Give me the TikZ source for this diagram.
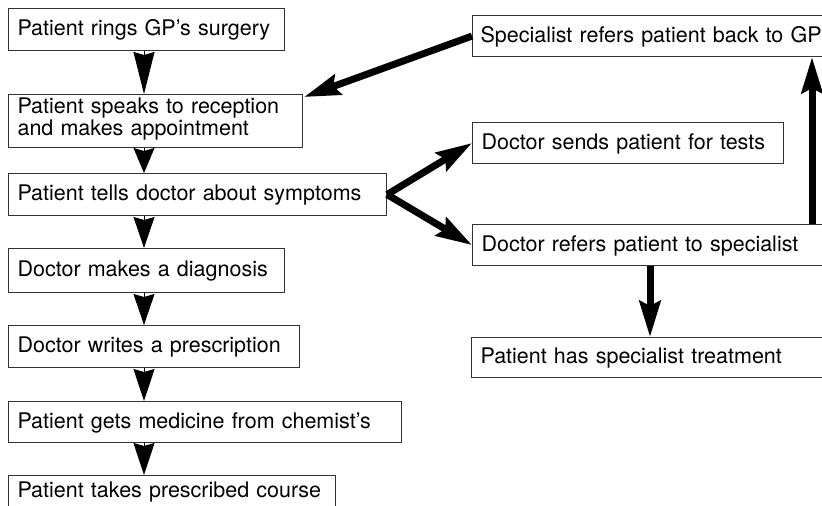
\documentclass[tikz,border=0pt]{standalone}
\usepackage{fontspec}
\setmainfont{TeX Gyre Heros}
\usetikzlibrary{arrows.meta,calc}
\begin{document}
\begin{tikzpicture}[x=1pt,y=-1pt,
  box/.style={draw=black!80, line width=1.1pt, anchor=north west, inner xsep=9pt, inner ysep=0pt,
    align=left, font=\fontsize{21.5}{17.5}\selectfont, text height=15.4pt, text depth=3pt},
  flow/.style={line width=1pt, -{Stealth[length=#1,width=21pt,inset=3pt]}},
  bigarrow/.style={line width=7pt, -{Stealth[length=36pt,width=21pt,inset=5pt]}}]
\useasboundingbox (0,0) rectangle (822,506);
\clip (0,0) rectangle (822,506);
% left column
\node[box, text width=258pt, minimum height=42pt] (b1) at (8,8) {Patient rings GP’s surgery};
\node[box, text width=276pt, minimum height=53pt, text depth=29.6pt] (b2) at (8,94) {Patient speaks to reception\\and makes appointment};
\node[box, text width=360pt, minimum height=42pt] (b3) at (8,173) {Patient tells doctor about symptoms};
\node[box, text width=258pt, minimum height=44pt] (b4) at (8,248) {Doctor makes a diagnosis};
\node[box, text width=273pt, minimum height=42pt] (b5) at (8,325) {Doctor writes a prescription};
\node[box, text width=375pt, minimum height=41pt] (b6) at (8,401) {Patient gets medicine from chemist’s};
\node[box, text width=309pt, minimum height=42pt, text depth=13pt] (b7) at (8,475) {Patient takes prescribed course};
% right column
\node[box, text width=352pt, minimum height=41pt, inner xsep=8pt] (r1) at (472,15) {Specialist refers patient back to GP};
\node[box, text width=293pt, minimum height=41pt] (r2) at (472,122) {Doctor sends patient for tests};
\node[box, text width=352pt, minimum height=41pt] (r3) at (472,224) {Doctor refers patient to specialist};
\node[box, text width=352pt, minimum height=40pt] (r4) at (471,337) {Patient has specialist treatment};
% left flow arrows (arrowhead fills the gap)
\foreach \a/\b/\l in {b1/b2/42pt,b2/b3/25pt,b3/b4/31pt,b4/b5/31pt,b5/b6/32pt,b6/b7/32pt}{
  \draw[flow=\l] ([xshift=136pt]\a.south west) -- ([xshift=136pt]\a.south west |- \b.north);
}
% thick arrows
\draw[bigarrow] (r1.west) -- ([shift={(1pt,-3pt)}]b2.north east);
\draw[bigarrow] (b3.east) -- (r2.west);
\draw[bigarrow] (b3.east) -- (r3.west);
\draw[bigarrow] ([xshift=340pt]r3.north west) -- ([xshift=340pt]r3.north west |- r1.south);
\draw[bigarrow] ([xshift=178pt]r3.south west) -- ([xshift=178pt]r3.south west |- r4.north);
\end{tikzpicture}
\end{document}
